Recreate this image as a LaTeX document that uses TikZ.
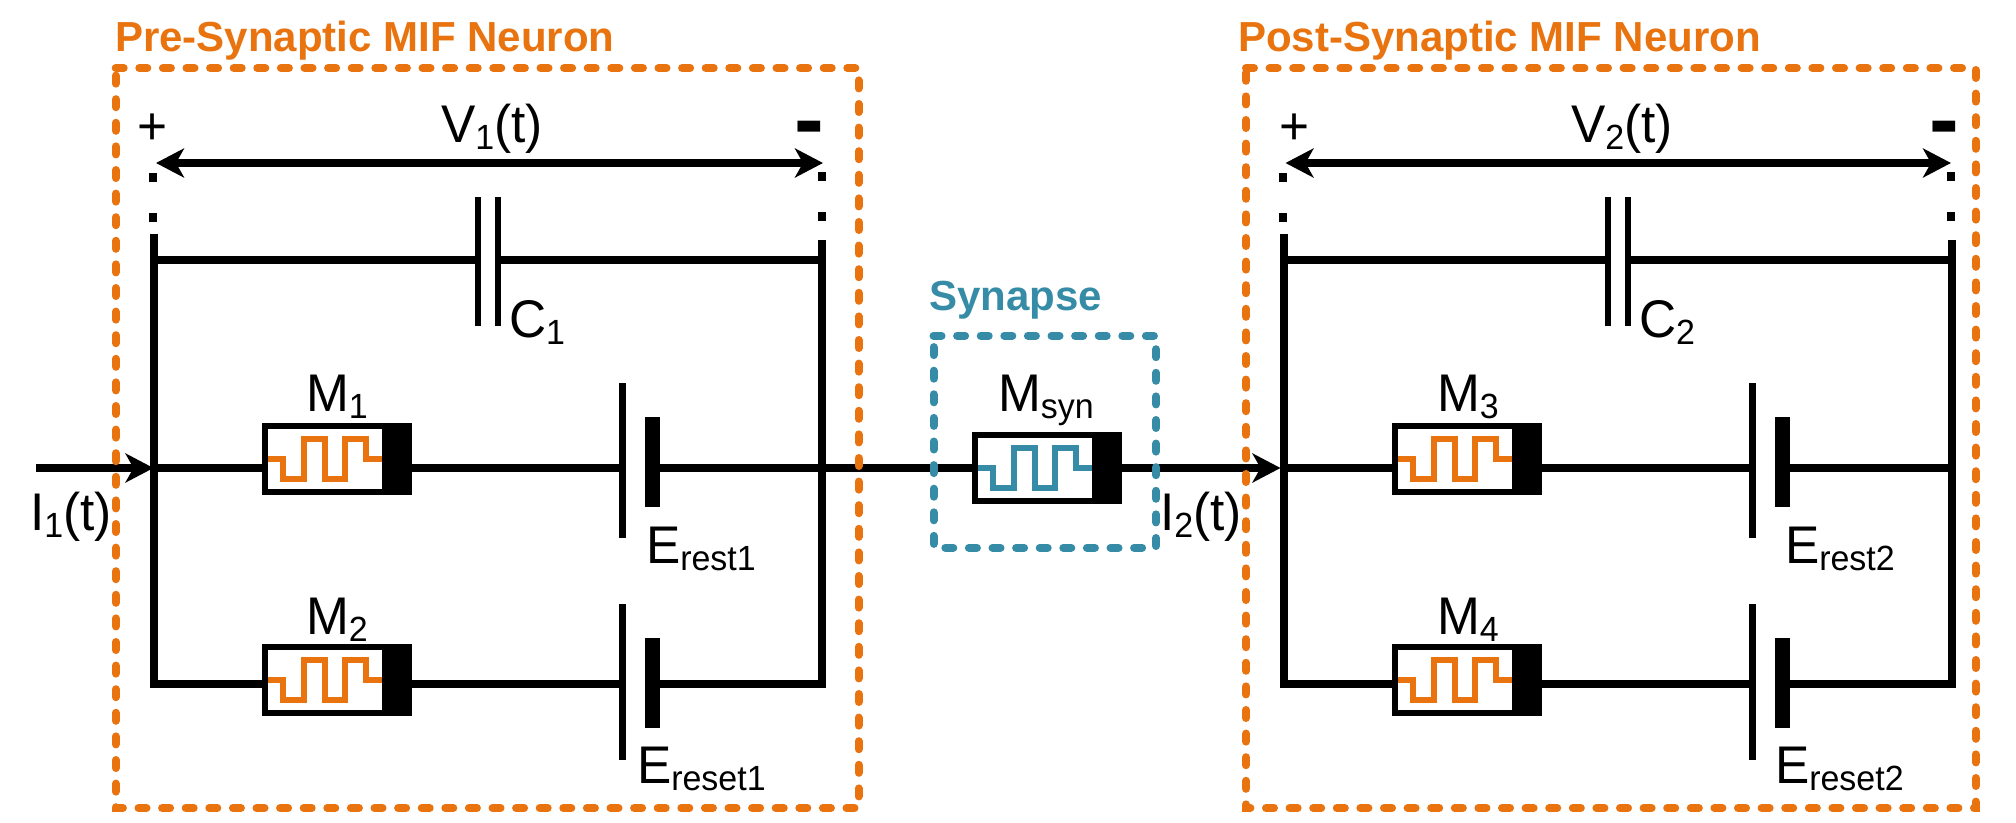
\documentclass[tikz,border=0pt]{standalone}
\usepackage{fontspec}
\setmainfont[FakeStretch=0.97]{Liberation Sans}
\newfontfamily\headfont{Liberation Sans}
\usetikzlibrary{arrows.meta,calc}
\definecolor{miforange}{HTML}{E8730F}
\definecolor{synteal}{HTML}{368CA6}
\newcommand\sbs[1]{\raisebox{-7pt}{\fontsize{35}{35}\selectfont #1}}
\tikzset{
  x=1pt,y=-1pt,
  wire/.style={line width=8pt,line cap=butt,line join=miter,black},
  biarrow/.style={wire,{Stealth[length=28pt,width=29pt,inset=8pt]}-{Stealth[length=28pt,width=29pt,inset=8pt]},shorten <=0pt,shorten >=0pt},
  inarrow/.style={wire,-{Stealth[length=28pt,width=29pt,inset=8pt]}},
  dashbox/.style={line width=8pt,line cap=round,dash pattern=on 8pt off 15.6pt},
  memr/.style={draw=black,line width=6pt,fill=white,minimum width=144pt,minimum height=66pt,inner sep=0pt,outer sep=0pt,anchor=north west},
  plate/.style={fill=black,draw=none,inner sep=0pt,outer sep=0pt},
  thinplate/.style={plate,minimum width=6.5pt},
  thickplate/.style={plate,minimum width=15pt,minimum height=90pt},
  capplate/.style={plate,minimum width=6pt,minimum height=129pt},
  dotm/.style={plate,minimum width=8pt,minimum height=9pt},
  txt/.style={anchor=base west,inner sep=0pt,outer sep=0pt,font=\fontsize{53}{60}\selectfont},
  heading/.style={anchor=base west,inner sep=0pt,outer sep=0pt,font=\headfont\fontsize{42}{48}\selectfont\bfseries}
}
% name, left, top, colour
\newcommand\memristor[4]{%
  \node[memr] (#1) at ($(#2,#3)+(3,3)$) {};
  \fill[black] (#2+120,#3) rectangle (#2+150,#3+72);
  \draw[#4,line width=6pt,line join=miter]
    (#2+6,#3+36) -- (#2+21,#3+36) -- (#2+21,#3+56) -- (#2+42,#3+56) -- (#2+42,#3+16)
    -- (#2+62.5,#3+16) -- (#2+62.5,#3+56) -- (#2+83,#3+56) -- (#2+83,#3+16)
    -- (#2+104,#3+16) -- (#2+104,#3+36) -- (#2+120,#3+36);
}
\begin{document}
\begin{tikzpicture}
\useasboundingbox (0,0) rectangle (2016,822);
\fill[white] (0,0) rectangle (2016,822);

% coordinates
\coordinate (inS) at (36,468);
\coordinate (jL1) at (153.5,468);
\coordinate (jR1) at (821.6,468);
\coordinate (topL1) at (153.5,234);
\coordinate (topR1) at (821.6,240);
\coordinate (botL1) at (153.5,684);
\coordinate (botR1) at (821.6,684);
\coordinate (jL2) at (1283.5,468);
\coordinate (jR2) at (1952,468);
\coordinate (topL2) at (1283.5,234);
\coordinate (topR2) at (1952,240);
\coordinate (botL2) at (1283.5,684);
\coordinate (botR2) at (1952,684);
\coordinate (capy1) at (153.5,260);
\coordinate (capz1) at (821.6,260);
\coordinate (capy2) at (1283.5,260);
\coordinate (capz2) at (1952,260);
\coordinate (vL1) at (156,163);
\coordinate (vR1) at (823,163);
\coordinate (vL2) at (1285.5,163);
\coordinate (vR2) at (1951,163);

% plates
\node[capplate] (C1a) at (478,261.5) {};
\node[capplate] (C1b) at (497.6,261.5) {};
\node[capplate] (C2a) at (1608,261.5) {};
\node[capplate] (C2b) at (1628,261.5) {};
\node[thinplate,minimum height=155pt] (B1a) at (622.5,460.5) {};
\node[thickplate] (B1b) at (652,462) {};
\node[thinplate,minimum height=156pt] (B2a) at (622.5,682) {};
\node[thickplate] (B2b) at (652,683) {};
\node[thinplate,minimum height=155pt] (B3a) at (1752.4,460.5) {};
\node[thickplate] (B3b) at (1782,462) {};
\node[thinplate,minimum height=156pt] (B4a) at (1752.4,682) {};
\node[thickplate] (B4b) at (1782,683) {};

% memristors
\memristor{M1}{262}{423}{miforange}
\memristor{M2}{262}{644}{miforange}
\memristor{M3}{1392}{423}{miforange}
\memristor{M4}{1392}{644}{miforange}
\memristor{Ms}{972}{432}{synteal}

% wires, pre
\draw[wire] (topL1) -- (botL1) -- (botL1 -| M2.west);
\draw[wire] (topR1) -- (botR1) -- (botR1 -| B2b.east);
\draw[wire] (capy1) -- (capy1 -| C1a.west);
\draw[wire] (capz1) -- (capz1 -| C1b.east);
\draw[wire] (jL1) -- (jL1 -| M1.west);
\draw[wire] (jL1 -| M1.east) -- (jL1 -| B1a.west);
\draw[wire] (jL1 -| B1b.east) -- (jR1);
\draw[wire] (botL1 -| M2.east) -- (botL1 -| B2a.west);
% wires, post
\draw[wire] (topL2) -- (botL2) -- (botL2 -| M4.west);
\draw[wire] (topR2) -- (botR2) -- (botR2 -| B4b.east);
\draw[wire] (capy2) -- (capy2 -| C2a.west);
\draw[wire] (capz2) -- (capz2 -| C2b.east);
\draw[wire] (jL2) -- (jL2 -| M3.west);
\draw[wire] (jL2 -| M3.east) -- (jL2 -| B3a.west);
\draw[wire] (jL2 -| B3b.east) -- (jR2);
\draw[wire] (botL2 -| M4.east) -- (botL2 -| B4a.west);
% through wires
\draw[inarrow] (inS) -- (jL1);
\draw[wire] (jR1) -- (jR1 -| Ms.west);
\draw[inarrow] (jR1 -| Ms.east) -- ($(jL2)+(-3,0)$);
% voltage arrows
\draw[biarrow] (vL1) -- (vR1);
\draw[biarrow] (vL2) -- (vR2);
% dots
\node[dotm] (d1) at (153,177) {};
\node[dotm] (d2) at (153,217) {};
\node[dotm] (d3) at (821.6,176) {};
\node[dotm] (d4) at (821.6,216) {};
\node[dotm] (d5) at (1283,177) {};
\node[dotm] (d6) at (1283,217) {};
\node[dotm] (d7) at (1951,176) {};
\node[dotm] (d8) at (1951,216) {};

% dashed boxes
\draw[miforange,dashbox] (115.7,68) -- (858.5,68) -- (858.5,808) -- (115.7,808) -- cycle;
\draw[miforange,dashbox] (1246,68) -- (1975.6,68) -- (1975.6,808) -- (1246,808) -- cycle;
\draw[synteal,dashbox] (933.5,335.7) -- (1156,335.7) -- (1156,547.7) -- (933.5,547.7) -- cycle;

% headings
\node[heading,text=miforange] (t1) at (115,51) {Pre-Synaptic MIF Neuron};
\node[heading,text=miforange] (t2) at (1238,51) {Post-Synaptic MIF Neuron};
\node[heading,text=synteal] (t3) at (929,310) {Synapse};

% labels
\node[txt] (lp1) at (137,144) {+};
\node[txt] (lp2) at (1279,144) {+};
\node[txt,font=\fontsize{92}{92}\selectfont\bfseries] (lm1) at (794,150) {-};
\node[txt,font=\fontsize{92}{92}\selectfont\bfseries] (lm2) at (1929,150) {-};
\node[txt] (lV1) at (441,142) {V\sbs{1}(t)};
\node[txt] (lV2) at (1571,142) {V\sbs{2}(t)};
\node[txt] (lC1) at (509,337) {C\sbs{1}};
\node[txt] (lC2) at (1639,337) {C\sbs{2}};
\node[txt] (lM1) at (306,411) {M\sbs{1}};
\node[txt] (lM2) at (306,634) {M\sbs{2}};
\node[txt] (lM3) at (1437,411) {M\sbs{3}};
\node[txt] (lM4) at (1437,634) {M\sbs{4}};
\node[txt] (lMs) at (998,411) {M\sbs{syn}};
\node[txt] (lI1) at (30,530) {I\sbs{1}(t)};
\node[txt] (lI2) at (1160,530) {I\sbs{2}(t)};
\node[txt] (lE1) at (646,563) {E\sbs{rest1}};
\node[txt] (lE2) at (637,783) {E\sbs{reset1}};
\node[txt] (lE3) at (1785,563) {E\sbs{rest2}};
\node[txt] (lE4) at (1775,783) {E\sbs{reset2}};
\end{tikzpicture}
\end{document}
